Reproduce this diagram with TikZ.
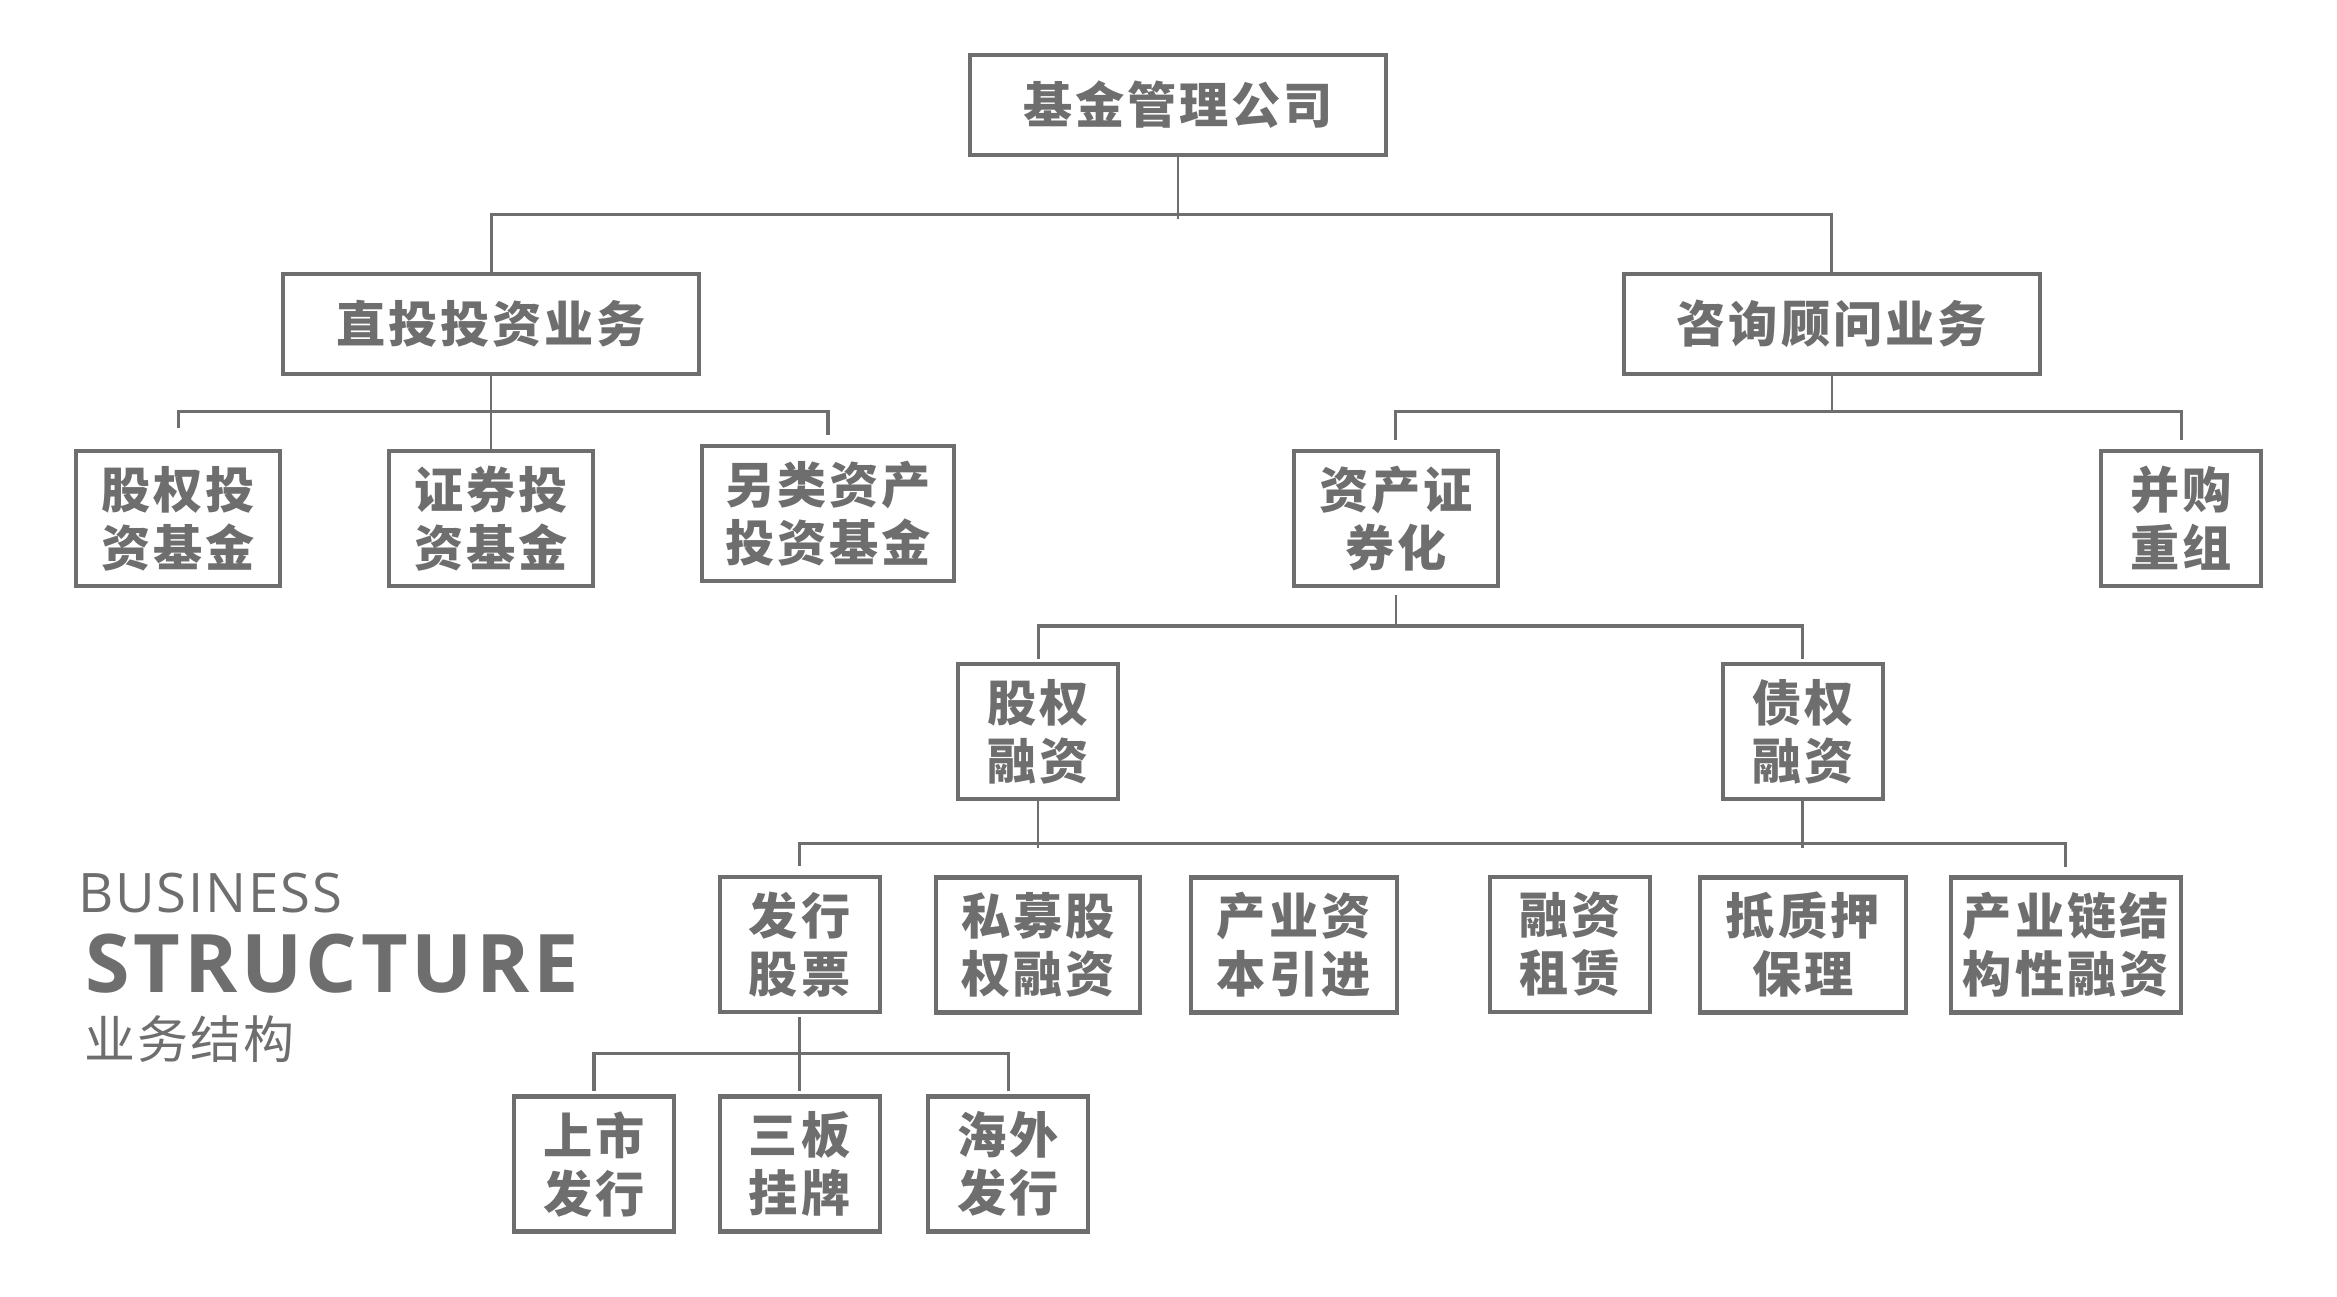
\documentclass[tikz,border=0pt]{standalone}
\usepackage{fontspec}
\usepackage{tikz}
\usetikzlibrary{positioning,calc}
\newfontfamily\cjkbox[LetterSpace=6]{Noto Sans CJK SC}
\newfontfamily\cjkplain[LetterSpace=4]{Noto Sans CJK SC}
\newfontfamily\latinsans[LetterSpace=3.5]{Open Sans}
\newfontfamily\latinwide[LetterSpace=4.5]{Open Sans}
\definecolor{ink}{HTML}{6E6E6E}
\tikzset{
    unitbox/.style={draw=ink, line width=1.2pt, fill=white, text=ink, align=center,
        inner sep=0pt, font=\cjkbox\bfseries\fontsize{14pt}{16.5pt}\selectfont},
    wide/.style={unitbox, minimum width=4.16cm, minimum height=1.0cm},
    small/.style={unitbox, minimum width=#1, minimum height=1.35cm},
    link/.style={draw=ink, line width=0.7pt},
    bar/.style={draw=ink, line width=0.9pt}
}
\begin{document}
\begin{tikzpicture}[x=0.014904cm, y=-0.014904cm]
    \useasboundingbox (0,0) rectangle (1568,870);
    \node[wide] at (790.5,70.5) (jjgl) {基金管理公司};
    \node[wide] at (329.5,217.5) (ztyw) {直投投资业务};
    \node[wide] at (1229,217.5) (zxyw) {咨询顾问业务};
    \node[small=2.04cm] at (119.5,348) (gqjj) {股权投\\资基金};
    \node[small=2.04cm] at (329.5,348) (zqjj) {证券投\\资基金};
    \node[small=2.52cm] at (555.5,344.5) (lljj) {另类资产\\投资基金};
    \node[small=2.04cm] at (936.5,348) (zczq) {资产证\\券化};
    \node[small=1.6cm] at (1463.5,348) (bgcz) {并购\\重组};
    \node[small=1.6cm] at (696.5,491) (gqrz) {股权\\融资};
    \node[small=1.6cm] at (1209.5,491) (zqrz) {债权\\融资};
    \node[small=1.6cm] at (536.5,633.5) (fxgp) {发行\\股票};
    \node[small=2.04cm] at (696.5,634) (smgq) {私募股\\权融资};
    \node[small=2.06cm] at (868,634) (cyzb) {产业资\\本引进};
    \node[small=1.6cm] at (1053.5,633.5) (rzzl) {融资\\租赁};
    \node[small=2.06cm] at (1209.5,634) (dzyb) {抵质押\\保理};
    \node[small=2.3cm] at (1386,634) (cyjg) {产业链结\\构性融资};
    \node[small=1.6cm] at (398.5,781) (ssfx) {上市\\发行};
    \node[small=1.6cm] at (536.5,781) (sbgp) {三板\\挂牌};
    \node[small=1.6cm] at (676.5,781) (hwfx) {海外\\发行};
    % levels of the bars
    \coordinate (lv1) at (0,144);
    \coordinate (lv2) at (0,276);
    \coordinate (lv3) at (0,420);
    \coordinate (lv4) at (0,566);
    \coordinate (lv5) at (0,707);
    % company
    \draw[link] (jjgl.south) -- ($(jjgl.south |- lv1)+(0,3)$);
    \draw[bar] (ztyw.north) |- (jjgl.south |- lv1) -| (zxyw.north);
    % direct investment
    \draw[link] (ztyw.south) -- (zqjj.north);
    \draw[bar, shorten <=6pt, shorten >=2.5pt] (gqjj.north) |- (ztyw.south |- lv2) -| (lljj.north);
    % advisory
    \draw[link] (zxyw.south) -- (zxyw.south |- lv2);
    \draw[bar, shorten <=2.5pt, shorten >=2.5pt] (zczq.north) |- (zxyw.south |- lv2) -| (bgcz.north);
    % securitisation
    \draw[link, shorten <=2pt] (zczq.south) -- (zczq.south |- lv3);
    \draw[bar, shorten <=1pt, shorten >=1pt] (gqrz.north) |- (zczq.south |- lv3) -| (zqrz.north);
    % equity / debt
    \draw[link] (gqrz.south) -- ($(gqrz.south |- lv4)+(0,3)$);
    \draw[link] (zqrz.south) -- ($(zqrz.south |- lv4)+(0,3)$);
    \draw[bar, shorten <=2.5pt, shorten >=2.5pt] (fxgp.north) |- (gqrz.south |- lv4) -| (cyjg.north);
    % share issue
    \draw[link, shorten <=1pt, shorten >=1pt] (fxgp.south) -- (sbgp.north);
    \draw[bar, shorten <=1pt, shorten >=1pt] (ssfx.north) |- (fxgp.south |- lv5) -| (hwfx.north);
    % side title
    \node[anchor=base west, text=ink, inner sep=0pt,
        font=\latinsans\fontsize{15.5pt}{18pt}\selectfont] at (52,612) (bsn) {BUSINESS};
    \node[anchor=base west, text=ink, inner sep=0pt,
        font=\latinwide\bfseries\fontsize{23pt}{26pt}\selectfont] at (57,666) (stru) {STRUCTURE};
    \node[anchor=west, text=ink, inner sep=0pt,
        font=\cjkplain\fontsize{14.5pt}{17pt}\selectfont] at (56,697) (ywjg) {业务结构};
\end{tikzpicture}
\end{document}
